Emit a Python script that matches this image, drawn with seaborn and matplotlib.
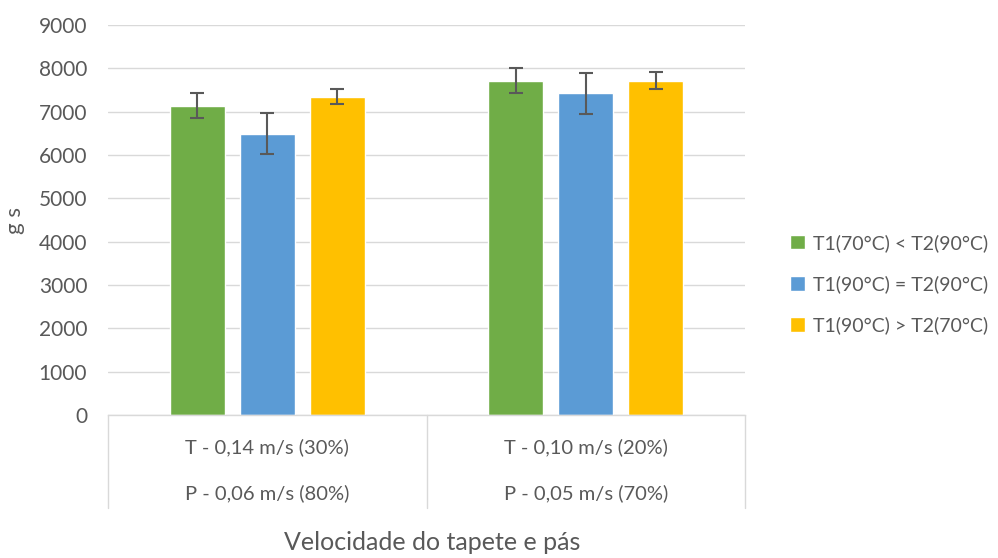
import numpy as np
import pandas as pd
import matplotlib
matplotlib.use("Agg")
import matplotlib.pyplot as plt
import matplotlib.transforms as mtrans
import seaborn as sns

# dati
gruppi = ["T - 0,14 m/s (30%)\nP - 0,06 m/s (80%)", "T - 0,10 m/s (20%)\nP - 0,05 m/s (70%)"]
righe_t = ["T - 0,14 m/s (30%)", "T - 0,10 m/s (20%)"]
righe_p = ["P - 0,06 m/s (80%)", "P - 0,05 m/s (70%)"]
serie = ["T1(70°C) < T2(90°C)", "T1(90°C) = T2(90°C)", "T1(90°C) > T2(70°C)"]
valori_verde = [7140, 7715]
valori_blu = [6490, 7420]
valori_giallo = [7350, 7715]
errori_verde = [290, 290]
errori_blu = [470, 465]
errori_giallo = [180, 190]

colori = ["#70AD47", "#5B9BD5", "#FFC000"]
grigio = "#595959"

df = pd.DataFrame({
    "gruppo": gruppi * 3,
    "serie": [serie[0]] * 2 + [serie[1]] * 2 + [serie[2]] * 2,
    "valore": valori_verde + valori_blu + valori_giallo,
    "errore": errori_verde + errori_blu + errori_giallo,
})

sns.set_style("white")
plt.rcParams["font.family"] = ["Lato", "DejaVu Sans"]

fig = plt.figure(figsize=(9.98, 5.58), dpi=100)
ax = fig.add_axes([108 / 998, (558 - 415) / 558, (745 - 108) / 998, 390 / 558])

sns.barplot(data=df, x="gruppo", y="valore", hue="serie", palette=colori,
            order=gruppi, hue_order=serie, width=0.66, gap=0.21,
            saturation=1, errorbar=None, ax=ax, zorder=2)

# barre di errore sui centri delle barre di seaborn
for i, s in enumerate(serie):
    cont = ax.containers[i]
    sub = df[df["serie"] == s].set_index("gruppo").loc[gruppi]
    xs = [p.get_x() + p.get_width() / 2 for p in cont.patches]
    ax.errorbar(xs, sub["valore"], yerr=sub["errore"], fmt="none",
                ecolor=grigio, elinewidth=1.5, capsize=5, capthick=1.5, zorder=3)

ax.set_ylim(0, 9000)
ax.set_xlim(-0.5, 1.5)
ax.set_yticks(np.arange(0, 9001, 1000))
ax.yaxis.grid(True, color="#D9D9D9", linewidth=1)
ax.set_axisbelow(True)
for sp in ["top", "right", "left"]:
    ax.spines[sp].set_visible(False)
ax.spines["bottom"].set_color("#D9D9D9")
ax.spines["bottom"].set_linewidth(1)
ax.tick_params(axis="y", length=0, labelsize=15, labelcolor=grigio, pad=15)
ax.set_xticks([0, 1])
ax.set_xticklabels(["", ""])
ax.tick_params(axis="x", length=0)
ax.set_xlabel("")
ax.set_ylabel("g s", fontsize=16, color=grigio, labelpad=10)

# tabella delle categorie sotto l'asse
tr = mtrans.blended_transform_factory(ax.transData, ax.transAxes)
for xv in [-0.5, 0.5, 1.5]:
    ax.plot([xv, xv], [0, -93 / 390], transform=tr, color="#D9D9D9",
            linewidth=1, clip_on=False)
for i in range(2):
    ax.text(i, -32 / 390, righe_t[i], transform=tr, ha="center", va="center",
            fontsize=14.5, color=grigio)
    ax.text(i, -78 / 390, righe_p[i], transform=tr, ha="center", va="center",
            fontsize=14.5, color=grigio)
fig.text(432 / 998, 1 - 543 / 558, "Velocidade do tapete e pás", ha="center",
         va="center", fontsize=18, color=grigio)

ax.legend(loc="center left", bbox_to_anchor=(772 / 998, 1 - 284 / 558),
          bbox_transform=fig.transFigure, frameon=False, fontsize=14,
          handlelength=0.8, handleheight=0.8, labelspacing=1.2,
          handletextpad=0.4, labelcolor=grigio)

fig.savefig("out.png", dpi=100)
